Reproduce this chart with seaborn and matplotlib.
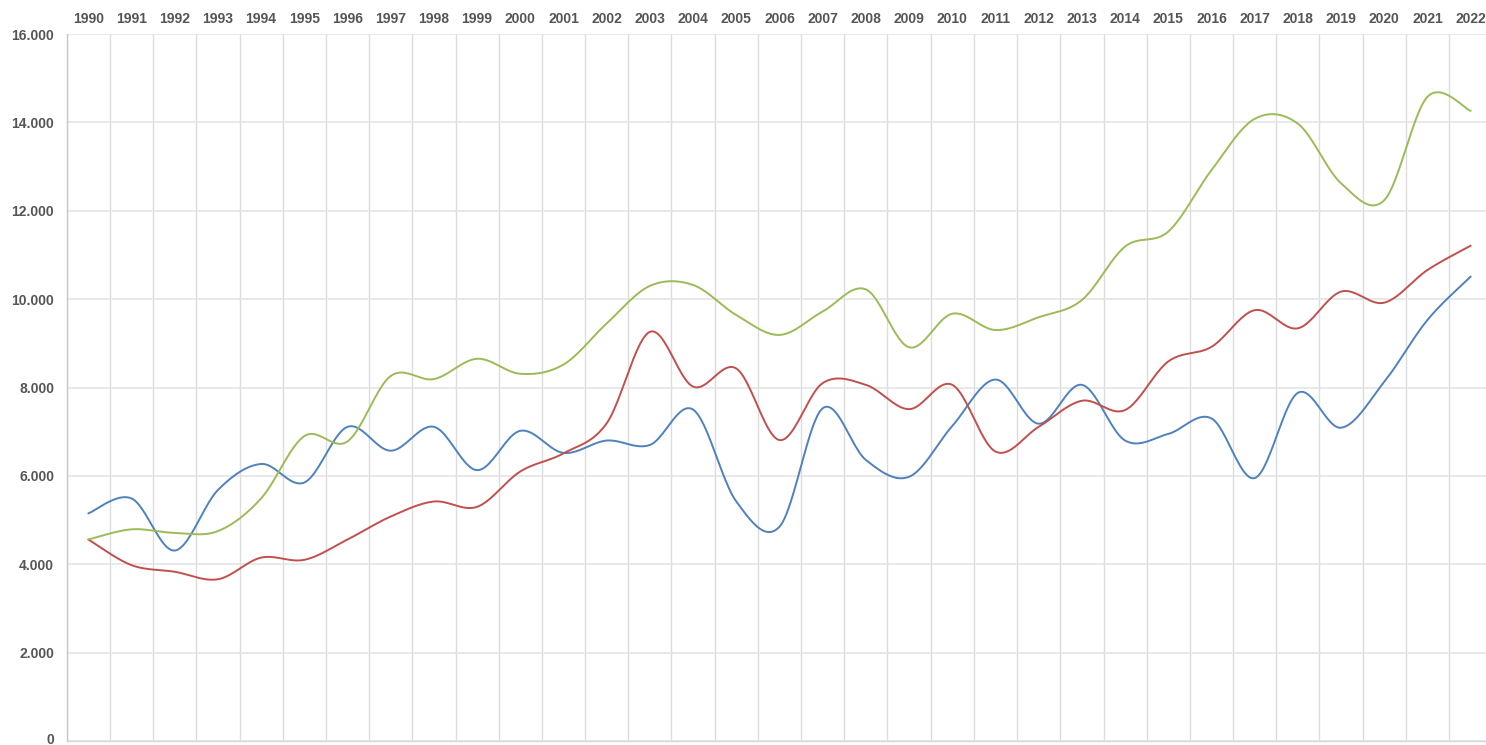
import numpy as np
import pandas as pd
import matplotlib
matplotlib.use("Agg")
import matplotlib.pyplot as plt
import matplotlib.transforms as mtransforms
from matplotlib.ticker import FixedLocator
import seaborn as sns

years = [1990, 1991, 1992, 1993, 1994, 1995, 1996, 1997, 1998, 1999, 2000,
         2001, 2002, 2003, 2004, 2005, 2006, 2007, 2008, 2009, 2010, 2011,
         2012, 2013, 2014, 2015, 2016, 2017, 2018, 2019, 2020, 2021, 2022]

blue = [5150, 5490, 4310, 5680, 6270, 5850, 7110, 6570, 7110, 6130, 7020,
        6520, 6800, 6700, 7500, 5420, 4850, 7530, 6360, 5980, 7130, 8180,
        7180, 8060, 6800, 6950, 7300, 5950, 7880, 7090, 8130, 9530, 10510]

red = [4560, 3980, 3830, 3660, 4150, 4100, 4560, 5080, 5420, 5300, 6100,
       6510, 7190, 9260, 8020, 8430, 6810, 8100, 8060, 7510, 8060, 6550,
       7110, 7700, 7490, 8590, 8920, 9750, 9340, 10170, 9920, 10660, 11210]

green = [4560, 4790, 4710, 4750, 5490, 6900, 6780, 8260, 8190, 8650, 8310,
         8520, 9450, 10300, 10320, 9640, 9190, 9720, 10220, 8910, 9670, 9300,
         9590, 9980, 11190, 11530, 12920, 14080, 13970, 12620, 12240, 14580, 14260]

y_ticks = [0, 2000, 4000, 6000, 8000, 10000, 12000, 14000, 16000]

series = {"A": blue, "B": red, "C": green}
colors = {"A": "#4F81BD", "B": "#C0504D", "C": "#9BBB59"}


def smooth(vals, steps=24):
    """Catmull-Rom style Bezier rendering of the polyline (display only)."""
    p = np.array([[i, v] for i, v in enumerate(vals)], dtype=float)
    pts = []
    n = len(p)
    for i in range(n - 1):
        p0 = p[i - 1] if i > 0 else p[i]
        p1 = p[i]
        p2 = p[i + 1]
        p3 = p[i + 2] if i + 2 < n else p[i + 1]
        c1 = p1 + (p2 - p0) / 6.0
        c2 = p2 - (p3 - p1) / 6.0
        t = np.linspace(0, 1, steps, endpoint=(i == n - 2))[:, None]
        b = ((1 - t) ** 3) * p1 + 3 * ((1 - t) ** 2) * t * c1 + 3 * (1 - t) * t ** 2 * c2 + t ** 3 * p2
        pts.append(b)
    return np.vstack(pts)


frames = []
for name, vals in series.items():
    c = smooth(vals)
    frames.append(pd.DataFrame({"x": c[:, 0], "y": c[:, 1], "s": name}))
df = pd.concat(frames, ignore_index=True)

sns.set_style("white")
plt.rcParams["font.family"] = ["Liberation Sans", "DejaVu Sans"]

fig = plt.figure(figsize=(14.86, 7.45), dpi=100)
W, H = 1486, 745
left, right, top, bottom = 66.7, 1492.3, 34, 741
ax = fig.add_axes([left / W, 1 - bottom / H, (right - left) / W, (bottom - top) / H])

sns.lineplot(data=df, x="x", y="y", hue="s", palette=colors, sort=False,
             estimator=None, legend=False, linewidth=1.4, ax=ax)

ax.set_xlim(-0.5, len(years) - 0.5)
ax.set_ylim(0, 16000)
ax.set_xlabel("")
ax.set_ylabel("")

ax.xaxis.tick_top()
ax.set_xticks(range(len(years)))
ax.set_xticklabels([str(y) for y in years], fontweight="bold")
ax.xaxis.set_minor_locator(FixedLocator(np.arange(-0.5, len(years), 1.0)))
ax.tick_params(axis="x", which="both", length=0, pad=5.5, labelsize=10,
               labelcolor="#555555")

ax.set_yticks(y_ticks)
ax.set_yticklabels([f"{v:,}".replace(",", ".") for v in y_ticks], fontweight="bold")
ax.tick_params(axis="y", which="major", length=3, width=1, color="#d6d6d6",
               pad=6, labelsize=10, labelcolor="#555555")
# nudge the "0" label up slightly so it is not clipped at the figure edge
lab0 = ax.yaxis.get_major_ticks()[0].label1
lab0.set_transform(lab0.get_transform() +
                   mtransforms.ScaledTranslation(0, 3 / 100, fig.dpi_scale_trans))

ax.grid(False)
ax.grid(axis="y", which="major", color="#e3e3e3", linewidth=1.1)
ax.grid(axis="x", which="minor", color="#dcdcdc", linewidth=1.0)
ax.set_axisbelow(True)

for s in ["top", "right"]:
    ax.spines[s].set_visible(False)
ax.spines["left"].set_color("#c8c8c8")
ax.spines["left"].set_linewidth(1.0)
ax.spines["bottom"].set_color("#d8d8d8")
ax.spines["bottom"].set_linewidth(1.0)

fig.savefig("out.png", dpi=100)
